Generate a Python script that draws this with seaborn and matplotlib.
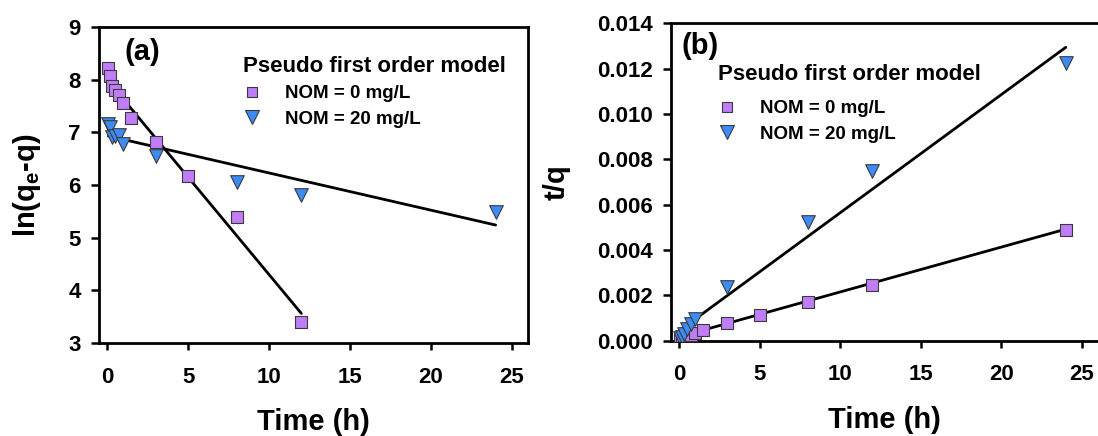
import numpy as np
import pandas as pd
import matplotlib
matplotlib.use("Agg")
import matplotlib.pyplot as plt
import seaborn as sns
from matplotlib.lines import Line2D

sns.set_theme(style="ticks")
plt.rcParams['font.family'] = ['Liberation Sans', 'DejaVu Sans']
plt.rcParams['font.weight'] = 'bold'
plt.rcParams['mathtext.fontset'] = 'custom'
plt.rcParams['mathtext.rm'] = 'Liberation Sans:bold'
plt.rcParams['mathtext.it'] = 'Liberation Sans:bold'
plt.rcParams['mathtext.bf'] = 'Liberation Sans:bold'
for k in ("text.color", "axes.labelcolor", "xtick.color", "ytick.color", "axes.edgecolor"):
    plt.rcParams[k] = "black"

# ---------------- data ----------------
series_labels = ["NOM = 0 mg/L", "NOM = 20 mg/L"]

# panel (a): ln(qe - q)
a_t0 = [0.08, 0.17, 0.33, 0.5, 0.75, 1.0, 1.5, 3, 5, 8, 12]
a_y0 = [8.22, 8.07, 7.88, 7.80, 7.71, 7.55, 7.27, 6.82, 6.17, 5.40, 3.40]
a_t20 = [0.08, 0.17, 0.33, 0.5, 0.75, 1.0, 3, 8, 12, 24]
a_y20 = [7.16, 7.10, 6.92, 6.93, 6.95, 6.78, 6.55, 6.06, 5.81, 5.48]
a_fit0_t = [0, 12]
a_fit0_y = [8.00, 3.56]
a_fit20_t = [0.08, 24]
a_fit20_y = [6.93, 5.24]

# panel (b): t/q
b_t0 = [0.08, 0.17, 0.33, 0.5, 0.75, 1.0, 1.5, 3, 5, 8, 12, 24]
b_y0 = [0.00005, 0.00008, 0.00012, 0.00017, 0.00025, 0.00032, 0.00045,
        0.00077, 0.00113, 0.00172, 0.00247, 0.00490]
b_t20 = [0.08, 0.17, 0.33, 0.5, 0.75, 1.0, 3, 8, 12, 24]
b_y20 = [0.00010, 0.00018, 0.00030, 0.00050, 0.00075, 0.00095,
         0.00238, 0.00525, 0.00748, 0.01224]
b_fit0_t = [0, 24]
b_fit0_y = [0.00017, 0.00492]
b_fit20_t = [0, 24]
b_fit20_y = [0.00043, 0.01294]

a_xticks = [0, 5, 10, 15, 20, 25]
a_yticks = [3, 4, 5, 6, 7, 8, 9]
b_yticks = [0.000, 0.002, 0.004, 0.006, 0.008, 0.010, 0.012, 0.014]

legend_title = "Pseudo first order model"
xlabel = "Time (h)"
ylabel_a = r"ln(q$_\mathrm{e}$-q)"
ylabel_b = "t/q"

# ---------------- style ----------------
c_sq = "#C07DFA"
c_tri = "#3D8BF5"
edge = "#3a3a3a"
ms = 8.3

fig = plt.figure(figsize=(10.98, 4.36), dpi=100)
axA = fig.add_axes([0.0902, 0.2133, 0.3907, 0.7247])
axB = fig.add_axes([0.6111, 0.2186, 0.3889, 0.7280])


def draw(ax, t0, y0, t20, y20, f0t, f0y, f20t, f20y):
    sns.lineplot(x=f0t, y=f0y, ax=ax, color="black", lw=2.0, zorder=2)
    sns.lineplot(x=f20t, y=f20y, ax=ax, color="black", lw=2.0, zorder=2)
    sns.scatterplot(x=t0, y=y0, ax=ax, marker="s", s=ms ** 2, color=c_sq,
                    edgecolor=edge, linewidth=0.8, zorder=3)
    sns.scatterplot(x=t20, y=y20, ax=ax, marker="v", s=(ms + 1.5) ** 2,
                    color=c_tri, edgecolor=edge, linewidth=0.8, zorder=3)


draw(axA, a_t0, a_y0, a_t20, a_y20, a_fit0_t, a_fit0_y, a_fit20_t, a_fit20_y)
draw(axB, b_t0, b_y0, b_t20, b_y20, b_fit0_t, b_fit0_y, b_fit20_t, b_fit20_y)

for ax in (axA, axB):
    ax.set_xlim(-0.5, 26)
    ax.set_xticks(a_xticks)
    ax.tick_params(axis="both", direction="out", length=6, width=1.8,
                   labelsize=16, color="black", labelcolor="black")
    ax.tick_params(axis="x", pad=12, length=5)
    ax.tick_params(axis="y", pad=7)
    for lab in ax.get_xticklabels() + ax.get_yticklabels():
        lab.set_fontweight("bold")
    ax.set_xlabel(xlabel, fontsize=21, fontweight="bold", labelpad=15)
    for sp in ax.spines.values():
        sp.set_linewidth(2.0)
        sp.set_color("black")
    ax.grid(False)

axA.set_ylim(3, 9)
axA.set_yticks(a_yticks)
axA.set_ylabel(ylabel_a, fontsize=21, fontweight="bold", labelpad=18)

axB.set_ylim(0, 0.014)
axB.set_yticks(b_yticks)
axB.set_yticklabels([f"{v:.3f}" for v in b_yticks], fontweight="bold")
axB.set_ylabel(ylabel_b, fontsize=21, fontweight="bold", labelpad=19)
axB.spines["right"].set_visible(False)

axA.text(0.06, 0.92, "(a)", transform=axA.transAxes, fontsize=21,
         fontweight="bold", ha="left", va="center")
axB.text(0.025, 0.93, "(b)", transform=axB.transAxes, fontsize=21,
         fontweight="bold", ha="left", va="center")

handles = [
    Line2D([], [], ls="none", marker="s", markersize=ms * 0.95, markerfacecolor=c_sq,
           markeredgecolor=edge, markeredgewidth=0.8),
    Line2D([], [], ls="none", marker="v", markersize=ms + 1.2, markerfacecolor=c_tri,
           markeredgecolor=edge, markeredgewidth=0.8),
]


def add_legend(ax, anchor, spacing, title_sep):
    leg = ax.legend(handles, series_labels, loc="upper left", bbox_to_anchor=anchor,
                    bbox_transform=ax.transAxes, frameon=False, title=legend_title,
                    prop={"size": 13.5, "weight": "bold"},
                    title_fontproperties={"size": 16, "weight": "bold"},
                    handlelength=1.0, handletextpad=1.25, labelspacing=spacing,
                    borderaxespad=0, borderpad=0)
    leg._legend_box.align = "left"
    leg._legend_box.sep = title_sep
    return leg


add_legend(axA, (0.335, 0.908), 0.44, 0.44 * 13.5)
add_legend(axB, (0.11, 0.872), 0.45, 0.45 * 13.5 + 5)

fig.savefig("out.png", dpi=100)
